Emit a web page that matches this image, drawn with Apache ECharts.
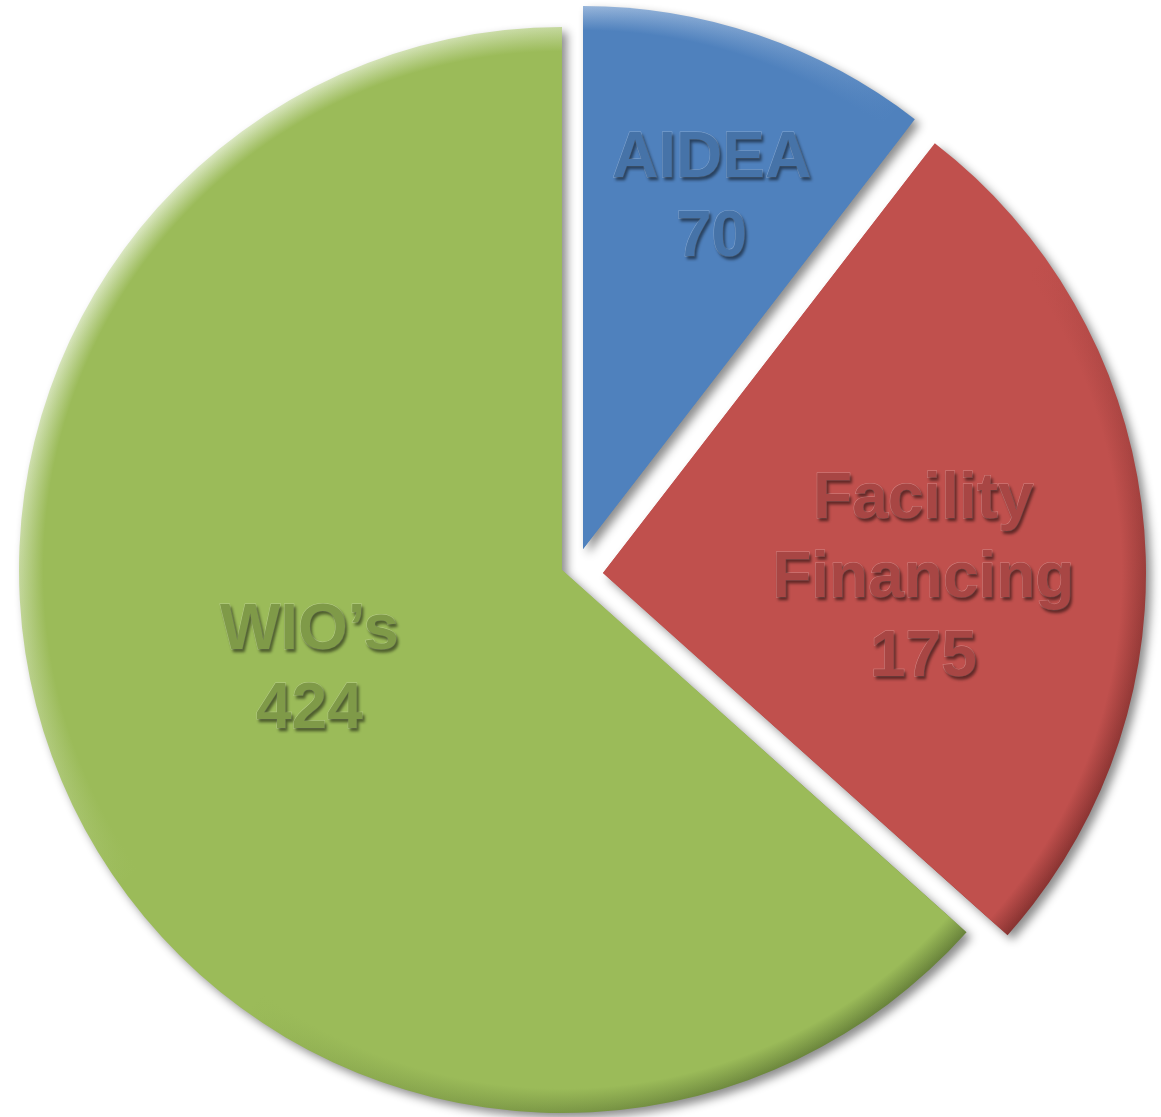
<!DOCTYPE html>
<html>
<head>
<meta charset="utf-8">
<script src="https://cdn.jsdelivr.net/npm/echarts@6/dist/echarts.min.js"></script>
<style>
  html, body { margin: 0; padding: 0; background: #ffffff; }
  #chart { width: 1161px; height: 1117px; }
</style>
</head>
<body>
<div id="chart"></div>
<script>
// data
const categories = ['AIDEA', 'Facility Financing', 'WIO’s'];
const labelNames = ['AIDEA', 'Facility\nFinancing', 'WIO’s'];
const values = [70, 175, 424];

// looks
const fills = ['#4f81bd', '#c0504d', '#9bbb59'];
const fillsClear = ['rgba(79,129,189,0)', 'rgba(192,80,77,0)', 'rgba(155,187,89,0)'];
const edgeLight = ['#c3d5ec', '#efc3c1', '#dde9c6'];
const edgeDark = ['#2f5584', '#863230', '#67813a'];
const textColors = ['#4673a8', '#a84644', '#7f9a48'];
const centers = [[583, 549], [603, 573], [562, 570]];
const labelOffsets = [[40, -90], [47, 31], [-2, -11]];
const R = 543;

const chart = echarts.init(document.getElementById('chart'));

function sliceData(k, styleFn, labelFn) {
  return values.map((v, i) => {
    if (i !== k) {
      return { value: v, name: categories[i], itemStyle: { color: 'rgba(0,0,0,0)', borderWidth: 0, shadowBlur: 0 }, label: { show: false } };
    }
    return { value: v, name: categories[i], itemStyle: styleFn(i), label: labelFn(i, v) };
  });
}

function baseSeries(k) {
  return {
    type: 'pie',
    name: categories[k],
    center: centers[k],
    radius: R,
    startAngle: 90,
    clockwise: true,
    silent: true,
    avoidLabelOverlap: false,
    labelLine: { show: false }
  };
}

const series = [];
// bottom layer: light top-left / dark bottom-right + drop shadow
categories.forEach((cat, k) => {
  const c = centers[k];
  series.push(Object.assign(baseSeries(k), {
    data: sliceData(k, i => ({
      color: {
        type: 'linear', global: true,
        x: c[0] - R * 0.72, y: c[1] - R * 0.72, x2: c[0] + R * 0.72, y2: c[1] + R * 0.72,
        colorStops: [
          { offset: 0, color: edgeLight[i] },
          { offset: 0.42, color: fills[i] },
          { offset: 0.58, color: fills[i] },
          { offset: 1, color: edgeDark[i] }
        ]
      },
      borderWidth: 0,
      shadowColor: 'rgba(0,0,0,0.45)',
      shadowBlur: 10,
      shadowOffsetX: 5,
      shadowOffsetY: 5
    }), () => ({ show: false }))
  }));
});
// top layer: flat colour fading out towards the rim (soft bevel) + labels
categories.forEach((cat, k) => {
  const c = centers[k];
  series.push(Object.assign(baseSeries(k), {
    data: sliceData(k, i => ({
      color: {
        type: 'radial', global: true,
        x: c[0], y: c[1], r: R,
        colorStops: [
          { offset: 0, color: fills[i] },
          { offset: 0.955, color: fills[i] },
          { offset: 1, color: fillsClear[i] }
        ]
      },
      borderWidth: 0
    }), (i, v) => ({
      show: true,
      position: 'inside',
      offset: labelOffsets[i],
      formatter: labelNames[i] + '\n' + v,
      fontFamily: 'Liberation Sans',
      fontWeight: 'bold',
      fontSize: 64,
      lineHeight: 79,
      color: textColors[i],
      textBorderColor: 'rgba(255,255,255,0.3)',
      textBorderWidth: 1,
      textShadowColor: 'rgba(0,0,0,0.5)',
      textShadowBlur: 3,
      textShadowOffsetX: 2,
      textShadowOffsetY: 3
    }))
  }));
});

chart.setOption({
  backgroundColor: '#ffffff',
  animation: false,
  series: series
});
</script>
</body>
</html>
